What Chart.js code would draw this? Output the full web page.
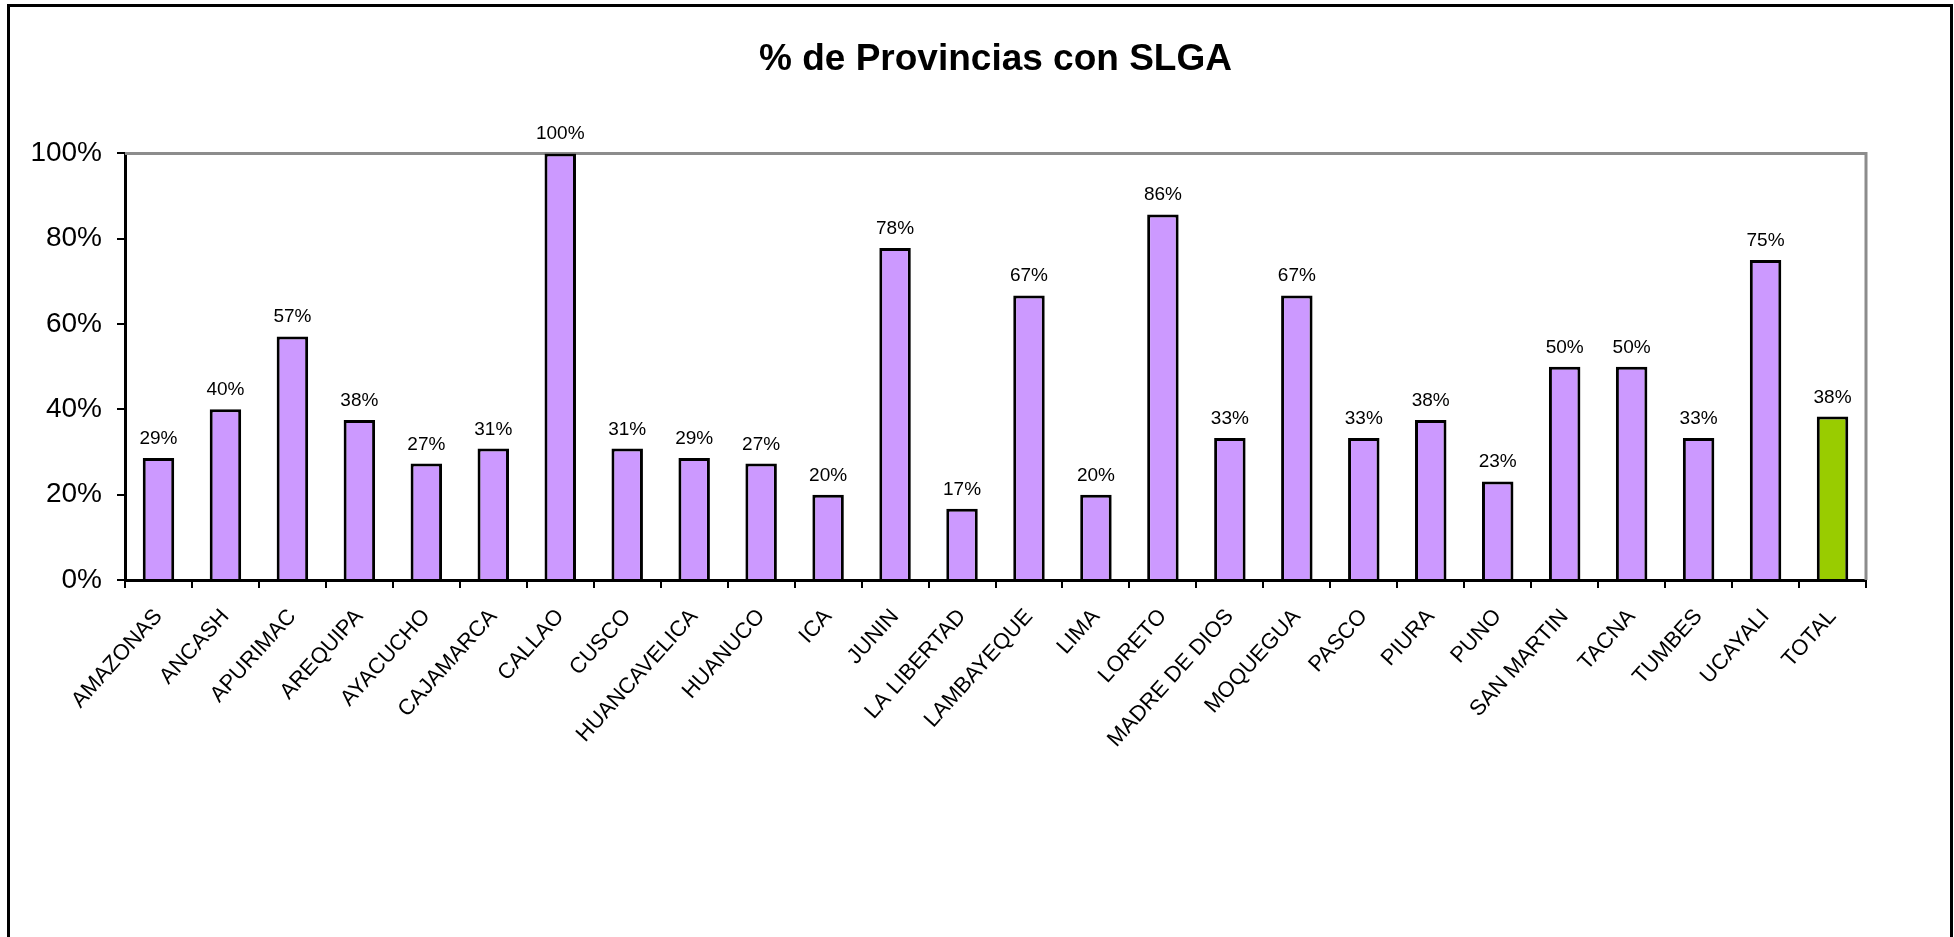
<!DOCTYPE html>
<html lang="es">
<head>
<meta charset="utf-8">
<title>% de Provincias con SLGA</title>
<script src="https://cdn.jsdelivr.net/npm/chart.js"></script>
<style>
  html, body { margin: 0; padding: 0; background: #fff; overflow: hidden; }
  #frame { position: absolute; left: 7px; top: 4px; width: 1940px; height: 960px; border: 3px solid #000; }
  #chart { position: absolute; left: 0; top: 0; }
</style>
</head>
<body>
<div id="frame"></div>
<canvas id="chart" width="1954" height="937"></canvas>
<script>
const regions = ['AMAZONAS', 'ANCASH', 'APURIMAC', 'AREQUIPA', 'AYACUCHO', 'CAJAMARCA', 'CALLAO', 'CUSCO',
  'HUANCAVELICA', 'HUANUCO', 'ICA', 'JUNIN', 'LA LIBERTAD', 'LAMBAYEQUE', 'LIMA', 'LORETO', 'MADRE DE DIOS',
  'MOQUEGUA', 'PASCO', 'PIURA', 'PUNO', 'SAN MARTIN', 'TACNA', 'TUMBES', 'UCAYALI', 'TOTAL'];
const pctSLGA = [28.6, 40, 57.1, 37.5, 27.3, 30.8, 100, 30.8, 28.6, 27.3, 20, 77.8, 16.7, 66.7, 20, 85.7, 33.3,
  66.7, 33.3, 37.5, 23.1, 50, 50, 33.3, 75, 38.3];
const yTicks = [0, 20, 40, 60, 80, 100];

const FONT = "'Liberation Sans', Arial, sans-serif";
const barColors = regions.map(r => r === 'TOTAL' ? '#99CC00' : '#CC99FF');

// value labels over the bars + grey top/right frame of the plot area
const extras = {
  id: 'extras',
  beforeDatasetsDraw(chart) {
    const { ctx, chartArea: a } = chart;
    ctx.save();
    ctx.strokeStyle = '#8c8c8c';
    ctx.lineWidth = 3;
    ctx.beginPath();
    ctx.moveTo(a.left, a.top);
    ctx.lineTo(a.right, a.top);
    ctx.lineTo(a.right, a.bottom);
    ctx.stroke();
    ctx.restore();
  },
  afterDatasetsDraw(chart) {
    const { ctx } = chart;
    const meta = chart.getDatasetMeta(0);
    ctx.save();
    ctx.font = '19px ' + FONT;
    ctx.fillStyle = '#000';
    ctx.textAlign = 'center';
    ctx.textBaseline = 'alphabetic';
    meta.data.forEach((bar, i) => {
      ctx.fillText(Math.round(pctSLGA[i]) + '%', bar.x, bar.y - 14);
    });
    ctx.restore();
  }
};

new Chart(document.getElementById('chart'), {
  type: 'bar',
  data: {
    labels: regions,
    datasets: [{
      data: pctSLGA,
      backgroundColor: barColors,
      borderColor: '#000',
      borderWidth: 3,
      barPercentage: 0.47,
      categoryPercentage: 1
    }]
  },
  options: {
    responsive: false,
    animation: false,
    layout: { padding: { left: 0, right: 88, top: 0, bottom: 0 } },
    plugins: {
      legend: { display: false },
      tooltip: { enabled: false },
      title: {
        display: true,
        fullSize: false,
        text: '% de Provincias con SLGA',
        color: '#000',
        font: { family: FONT, size: 37, weight: 'bold', lineHeight: 1.2 },
        padding: { top: 38, bottom: 71 }
      }
    },
    scales: {
      y: {
        min: 0,
        max: 100,
        afterBuildTicks(scale) { scale.ticks = yTicks.map(v => ({ value: v })); },
        afterFit(scale) { scale.width = 125; },
        border: { color: '#000', width: 3 },
        grid: { drawOnChartArea: false, drawTicks: true, tickLength: 8, color: '#000', lineWidth: 2 },
        ticks: {
          color: '#000',
          padding: 15,
          font: { family: FONT, size: 28 },
          callback: v => v + '%'
        }
      },
      x: {
        afterFit(scale) { scale.height = 357; },
        border: { color: '#000', width: 3 },
        grid: { drawOnChartArea: false, drawTicks: true, tickLength: 8, color: '#000', lineWidth: 2, offset: true },
        ticks: {
          color: '#000',
          autoSkip: false,
          minRotation: 48,
          maxRotation: 48,
          padding: 16,
          font: { family: FONT, size: 22 }
        }
      }
    }
  },
  plugins: [extras]
});
</script>
</body>
</html>
